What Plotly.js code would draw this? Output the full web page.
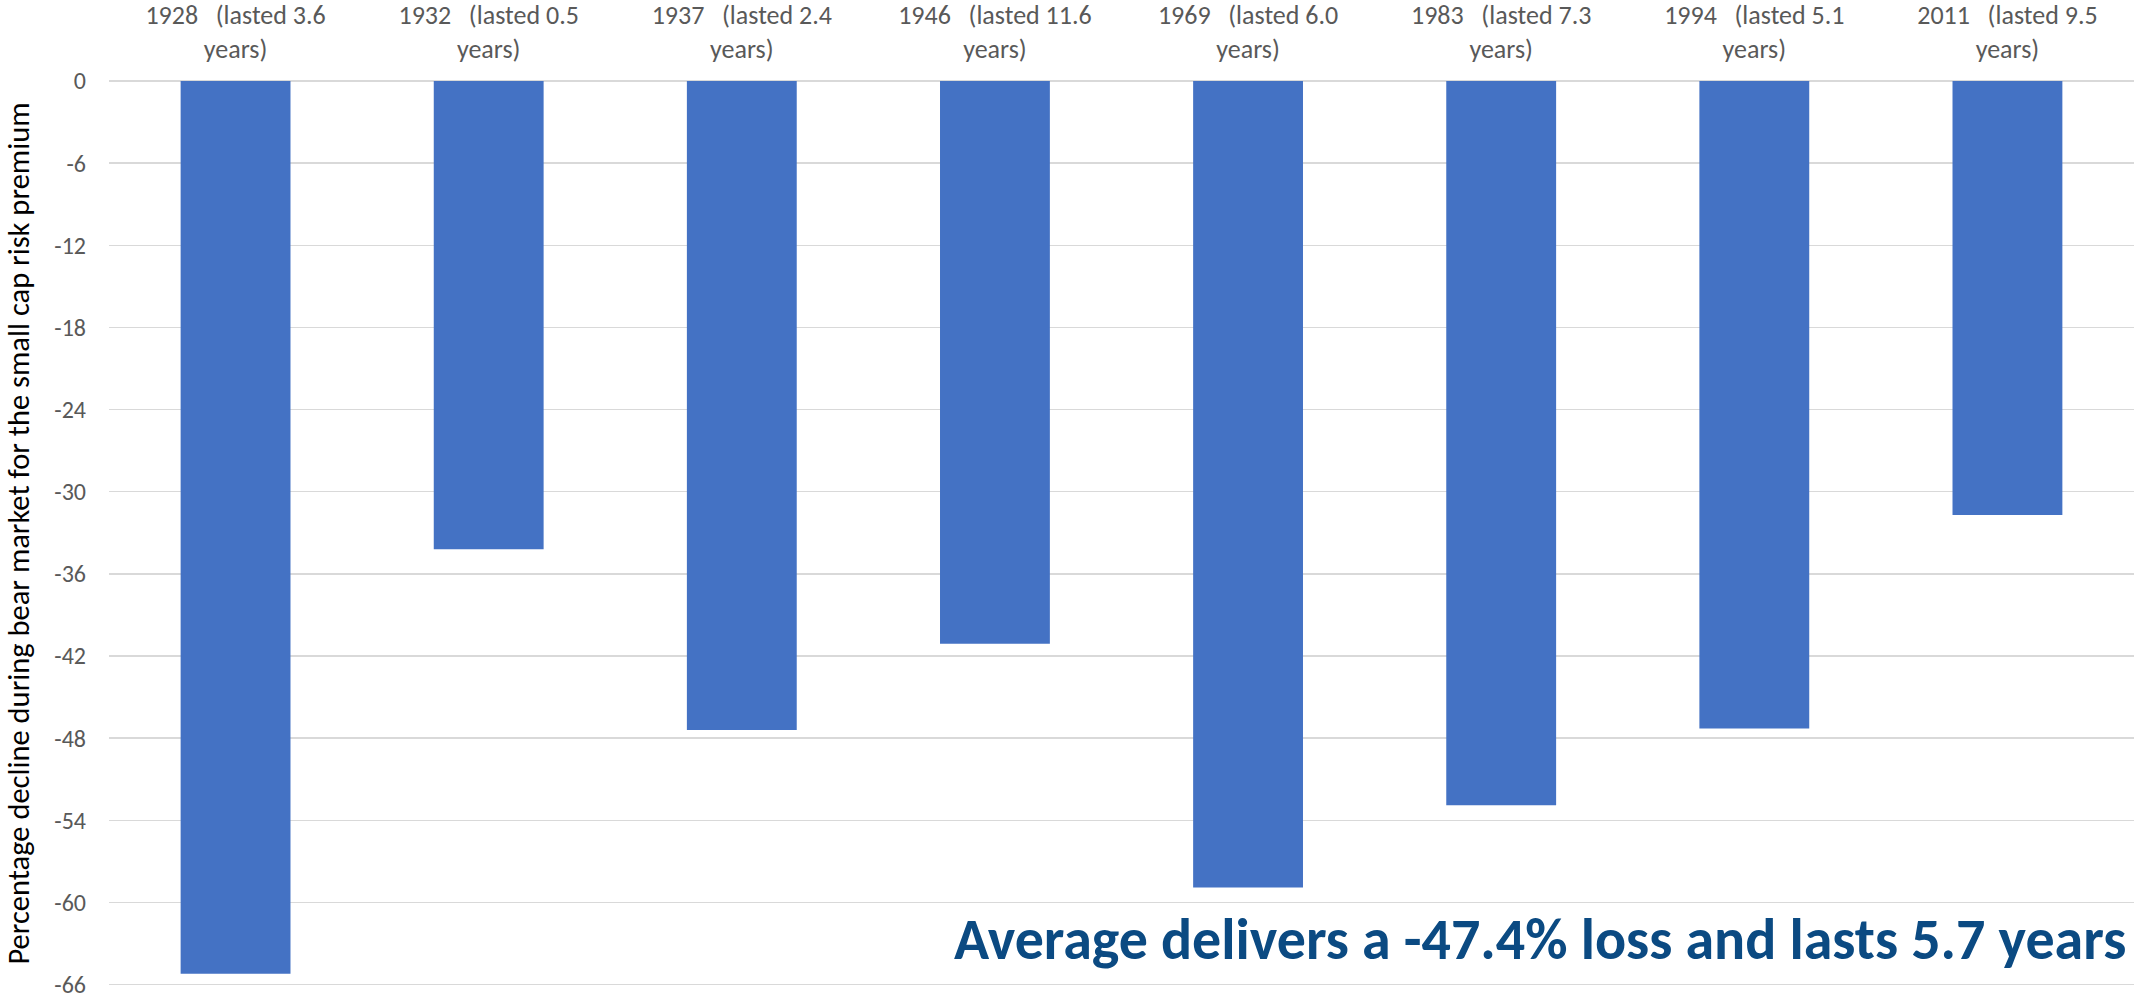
<!DOCTYPE html>
<html>
<head>
<meta charset="utf-8">
<script src="https://cdn.plot.ly/plotly-3.0.1.min.js"></script>
<style>
  html, body { margin: 0; padding: 0; background: #ffffff; }
  #chart { width: 2134px; height: 1000px; }
</style>
</head>
<body>
<div id="chart"></div>
<script>
// Data
var startYears = ["1928", "1932", "1937", "1946", "1969", "1983", "1994", "2011"];
var durationsYears = ["3.6", "0.5", "2.4", "11.6", "6.0", "7.3", "5.1", "9.5"];
var declines = [-65.2, -34.2, -47.4, -41.1, -58.9, -52.9, -47.3, -31.7];
var yTickValues = [0, -6, -12, -18, -24, -30, -36, -42, -48, -54, -60, -66];
var yAxisTitle = "Percentage decline during bear market for the small cap risk premium";
var noteText = "Average delivers a -47.4% loss and lasts 5.7 years";

var categoryLabels = startYears.map(function (y, i) {
  return y + "&nbsp;&nbsp;&nbsp;(lasted " + durationsYears[i] + "<br>years)";
});

var calibriLike = "Carlito, Calibri, Lato, 'Open Sans', sans-serif";

var trace = {
  type: "bar",
  x: categoryLabels,
  y: declines,
  marker: { color: "#4472C4", line: { width: 0 } },
  hoverinfo: "x+y"
};

var layout = {
  width: 2134,
  height: 1000,
  margin: { l: 109, r: 0, t: 81, b: 14, pad: 0 },
  paper_bgcolor: "#ffffff",
  plot_bgcolor: "#ffffff",
  showlegend: false,
  bargap: 0.566,
  xaxis: {
    type: "category",
    side: "top",
    showgrid: false,
    zeroline: false,
    showline: false,
    ticks: "",
    tickfont: { family: calibriLike, size: 26, color: "#595959" },
    ticklabelstandoff: 17,
    fixedrange: true
  },
  yaxis: {
    range: [-66.1, 0],
    tickmode: "array",
    tickvals: yTickValues,
    ticktext: yTickValues.map(String),
    ticklabeloverflow: "allow",
    showgrid: true,
    gridcolor: "#D9D9D9",
    gridwidth: 1.5,
    zeroline: true,
    zerolinecolor: "#D9D9D9",
    zerolinewidth: 1.5,
    showline: false,
    ticks: "",
    tickfont: { family: calibriLike, size: 24, color: "#595959" },
    ticklabelstandoff: 22,
    title: {
      text: yAxisTitle,
      font: { family: calibriLike, size: 30.5, color: "#000000" },
      standoff: 20
    },
    fixedrange: true
  },
  annotations: [{
    xref: "paper",
    yref: "y",
    x: 1,
    y: -62.7,
    xanchor: "right",
    yanchor: "middle",
    xshift: -6,
    text: "<b>" + noteText + "</b>",
    showarrow: false,
    font: { family: calibriLike, size: 58, color: "#0B4A82" }
  }]
};

Plotly.newPlot("chart", [trace], layout, { displayModeBar: false, staticPlot: true });
</script>
</body>
</html>
